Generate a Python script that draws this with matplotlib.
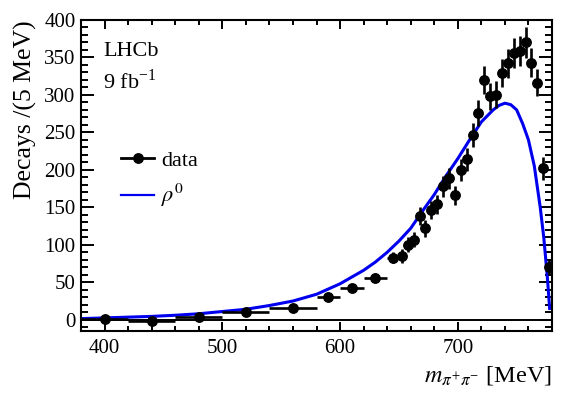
import matplotlib
matplotlib.use("Agg")
import matplotlib.pyplot as plt
from matplotlib.lines import Line2D
from matplotlib.ticker import MultipleLocator

plt.rcParams['font.family'] = ['Liberation Serif', 'DejaVu Serif']
plt.rcParams['mathtext.fontset'] = 'stix'

# ---- data ----
data_x = [400, 440, 480, 520, 560, 590, 610, 630, 645,
          652.5, 657.5, 662.5, 667.5, 672.5, 677.5, 682.5, 687.5, 692.5, 697.5,
          702.5, 707.5, 712.5, 717.5, 722.5, 727.5, 732.5, 737.5, 742.5, 747.5,
          752.5, 757.5, 762.5, 767.5, 772.5, 777.5]
data_xerr = [20, 20, 20, 20, 20, 10, 10, 10, 5,
             2.5, 2.5, 2.5, 2.5, 2.5, 2.5, 2.5, 2.5, 2.5, 2.5,
             2.5, 2.5, 2.5, 2.5, 2.5, 2.5, 2.5, 2.5, 2.5, 2.5,
             2.5, 2.5, 2.5, 2.5, 2.5, 2.5]
data_y = [1.5, -1.5, 3.5, 10, 16, 30, 43, 56, 83,
          85, 100, 107, 139, 122, 146, 154, 178, 189, 166,
          200, 214, 247, 276, 320, 298, 300, 329, 342, 356,
          358, 370, 343, 316, 202, 70]
data_yerr = [3, 3, 3, 4, 4, 5, 5, 6, 7,
             9, 10, 10, 12, 11, 12, 13, 14, 14, 13,
             15, 15, 16, 17, 19, 18, 18, 19, 19, 20,
             20, 21, 19, 18, 15, 10]

rho_x = [380, 400, 420, 440, 460, 480, 500, 520, 540, 560, 580, 600, 620, 630,
         640, 650, 660, 670, 680, 690, 700, 710, 720, 730, 735, 740, 745, 750,
         755, 760, 765, 770, 773, 776, 778]
rho_y = [1.5, 2.5, 3.5, 4.5, 6, 8, 11, 14, 19, 25, 34, 48, 66, 77,
         90, 105, 122, 145, 167, 192, 215, 240, 264, 280, 286, 289, 287, 280,
         262, 240, 205, 150, 110, 58, 15]

xlim = (380, 780)
ylim = (-15, 400)

fig = plt.figure(figsize=(5.81, 3.95), dpi=100)
ax = fig.add_axes([81/581, 1-331/395, 471/581, 311/395])

ax.axhline(0, color='black', lw=1.4, zorder=1)
ax.plot(rho_x, rho_y, color='#0000ee', lw=2.2, zorder=2)
ax.errorbar(data_x, data_y, xerr=data_xerr, yerr=data_yerr, fmt='o', color='black',
            ms=6.8, elinewidth=1.9, capsize=0, zorder=3)

ax.set_xlim(*xlim)
ax.set_ylim(*ylim)
ax.xaxis.set_major_locator(MultipleLocator(100))
ax.xaxis.set_minor_locator(MultipleLocator(20))
ax.yaxis.set_major_locator(MultipleLocator(50))
ax.yaxis.set_minor_locator(MultipleLocator(10))
ax.tick_params(axis='both', which='both', direction='in', top=True, right=True,
               width=1.4, labelsize=15)
ax.tick_params(axis='x', which='major', length=6.5, pad=6)
ax.tick_params(axis='x', which='minor', length=3.3)
ax.tick_params(axis='y', which='major', length=9.4, pad=4)
ax.tick_params(axis='y', which='minor', length=4.7)
for s in ax.spines.values():
    s.set_linewidth(1.5)

ax.set_xlabel(r'$m_{\pi^{+}\pi^{-}}$ [MeV]', fontsize=17.5, loc='right', labelpad=4)
ax.set_ylabel('Decays /(5 MeV)', fontsize=18.5, loc='top', labelpad=5)

ax.text(0.047, 0.93, 'LHCb', transform=ax.transAxes, fontsize=16, va='top', ha='left')
ax.text(0.047, 0.84, r'9 fb$^{\mathregular{-1}}$', transform=ax.transAxes, fontsize=16,
        va='top', ha='left')

h_data = Line2D([], [], color='black', marker='o', ms=6.8, lw=2.0)
h_rho = Line2D([], [], color='#0000ee', lw=1.6)
ax.legend([h_data, h_rho], ['data', r'$\rho^{\mathit{0}}$'], loc='upper left',
          bbox_to_anchor=(0.085, 0.58), frameon=False, fontsize=16,
          handlelength=1.5, handletextpad=0.3, labelspacing=0.5,
          borderpad=0, borderaxespad=0)

fig.savefig('out.png', dpi=100)
